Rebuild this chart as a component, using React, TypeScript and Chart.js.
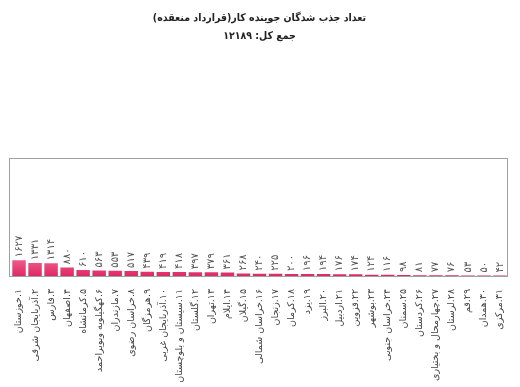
import React, { useEffect, useRef } from "react";
import { Chart, registerables } from "chart.js";

Chart.register(...registerables);

const titleLines = ["تعداد جذب شدگان جوینده کار(قرارداد منعقده)", "جمع کل: ۱۲۱۸۹"];

const categories = [
  "۱.خوزستان",
  "۲.آذربایجان شرقی",
  "۳.فارس",
  "۴.اصفهان",
  "۵.کرمانشاه",
  "۶.کهگیلویه وبویراحمد",
  "۷.مازندران",
  "۸.خراسان رضوی",
  "۹.هرمزگان",
  "۱۰.آذربایجان غربی",
  "۱۱.سیستان و بلوچستان",
  "۱۲.گلستان",
  "۱۳.تهران",
  "۱۴.ایلام",
  "۱۵.گیلان",
  "۱۶.خراسان شمالی",
  "۱۷.زنجان",
  "۱۸.کرمان",
  "۱۹.یزد",
  "۲۰.البرز",
  "۲۱.اردبیل",
  "۲۲.قزوین",
  "۲۳.بوشهر",
  "۲۴.خراسان جنوبی",
  "۲۵.سمنان",
  "۲۶.کردستان",
  "۲۷.چهارمحال و بختیاری",
  "۲۸.لرستان",
  "۲۹.قم",
  "۳۰.همدان",
  "۳۱.مرکزی",
];

const values = [
  1627, 1331, 1314, 880, 610, 563, 553, 517, 439, 419, 418, 397, 379, 361, 268,
  240, 225, 200, 196, 194, 176, 174, 124, 116, 98, 81, 77, 76, 53, 50, 42,
];

const yMax = 12189;

const faDigits = "۰۱۲۳۴۵۶۷۸۹";
const toFa = (n: number) =>
  String(n).replace(/[0-9]/g, (d) => faDigits[Number(d)]);

const FONT = "'DejaVu Sans', sans-serif";
const TITLE_FONT = "'DejaVu Sans Condensed', 'DejaVu Sans', sans-serif";

const valueLabelPlugin = {
  id: "valueLabels",
  afterDatasetsDraw(chart: any) {
    const { ctx } = chart;
    const meta = chart.getDatasetMeta(0);
    ctx.save();
    ctx.fillStyle = "#555";
    ctx.font = `10px ${FONT}`;
    ctx.textAlign = "left";
    ctx.textBaseline = "middle";
    meta.data.forEach((bar: any, i: number) => {
      ctx.save();
      ctx.translate(bar.x, bar.y - 3);
      ctx.rotate(-Math.PI / 2);
      ctx.fillText(toFa(values[i]), 0, 0);
      ctx.restore();
    });
    ctx.restore();
  },
};

const framePlugin = {
  id: "frame",
  afterDraw(chart: any) {
    const { ctx, chartArea } = chart;
    ctx.save();
    ctx.strokeStyle = "#a0a0a0";
    ctx.lineWidth = 1;
    ctx.strokeRect(
      Math.round(chartArea.left) - 2 + 0.5,
      Math.round(chartArea.top) + 0.5,
      Math.round(chartArea.right - chartArea.left) + 1,
      Math.round(chartArea.bottom - chartArea.top)
    );
    ctx.restore();
  },
};

export default function App() {
  const ref = useRef<HTMLCanvasElement | null>(null);
  useEffect(() => {
    document.body.style.margin = "0";
    const canvas = ref.current!;
    const chart = new Chart(canvas, {
      type: "bar",
      data: {
        labels: categories,
        datasets: [
          {
            data: values,
            backgroundColor: (c: any) => {
              const { chart } = c;
              const area = chart.chartArea;
              if (!area) return "#e23b70";
              const g = chart.ctx.createLinearGradient(0, area.bottom - 16, 0, area.bottom);
              g.addColorStop(0, "#ef5a8a");
              g.addColorStop(1, "#dc2a62");
              return g;
            },
            borderWidth: 0,
            barPercentage: 0.84,
            categoryPercentage: 1,
          },
        ],
      },
      options: {
        responsive: false,
        animation: false,
        layout: { padding: { left: 11, right: 12, top: 0, bottom: 0 } },
        plugins: {
          legend: { display: false },
          tooltip: { enabled: false },
          title: {
            display: true,
            text: titleLines,
            color: "#222",
            font: { family: TITLE_FONT, size: 10.5, weight: "bold", lineHeight: 1.7 },
            padding: { top: 9, bottom: 113 },
          },
        },
        scales: {
          x: {
            grid: { display: false },
            border: { display: false },
            ticks: {
              minRotation: 90,
              maxRotation: 90,
              autoSkip: false,
              padding: 5,
              color: "#444",
              font: { family: FONT, size: 9.5 },
            },
            afterFit(scale: any) {
              scale.height = 111;
            },
          },
          y: {
            display: false,
            min: 0,
            max: yMax,
          },
        },
      },
      plugins: [valueLabelPlugin, framePlugin],
    });
    return () => chart.destroy();
  }, []);
  return (
    <div style={{ width: 520, height: 387 }}>
      <canvas ref={ref} width={520} height={387} dir="rtl" style={{ display: "block" }} />
    </div>
  );
}
